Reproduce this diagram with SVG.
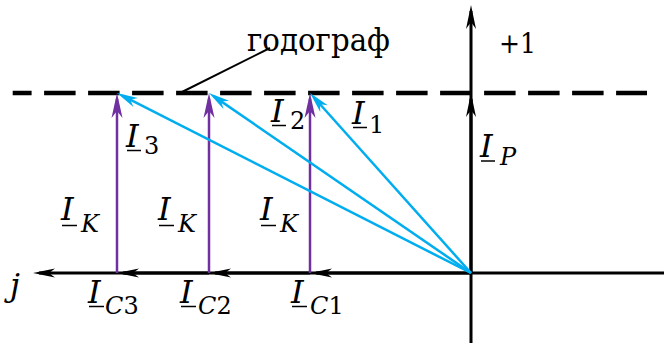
<svg xmlns="http://www.w3.org/2000/svg" width="664" height="345" viewBox="0 0 664 345">
<style>
.ax{stroke:#000;stroke-width:3;fill:none}
.bl{stroke:#00AEEF;stroke-width:2.5;fill:none}
.pu{stroke:#7030A0;stroke-width:2.5;fill:none}
.ul{stroke:#000;stroke-width:1.5}
text{font-family:'DejaVu Serif','Liberation Serif',serif}
.i{font-style:italic}
.m{font-size:32px;font-style:italic}
.s{font-size:24px}
</style>
<defs>
<marker id="ak" viewBox="-30 -7 31 14" refX="-6" refY="0" markerWidth="31" markerHeight="14" markerUnits="userSpaceOnUse" orient="auto">
<path d="M0,0 L-24,-5 L-17,0 L-24,5 Z" fill="#000"/>
</marker>
<marker id="ah" viewBox="-30 -7 31 14" refX="-6" refY="0" markerWidth="31" markerHeight="14" markerUnits="userSpaceOnUse" orient="auto">
<path d="M0,0 L-22,-4.5 L-16,0 L-22,4.5 Z" fill="#000"/>
</marker>
<marker id="ap" viewBox="-30 -7 31 14" refX="-6" refY="0" markerWidth="31" markerHeight="14" markerUnits="userSpaceOnUse" orient="auto">
<path d="M0,0 L-25,-5.5 L-18,0 L-25,5.5 Z" fill="#7030A0"/>
</marker>
<marker id="ab" viewBox="-30 -7 31 14" refX="-6" refY="0" markerWidth="31" markerHeight="14" markerUnits="userSpaceOnUse" orient="auto">
<path d="M0,0 L-21,-5 L-15,0 L-21,5 Z" fill="#00AEEF"/>
</marker>
</defs>
<g id="hodograph">
<line x1="12.7" y1="93" x2="647" y2="93" stroke="#000" stroke-width="4.5" stroke-dasharray="31.5 12.5" stroke-dashoffset="12.6"/>
<line x1="182" y1="92" x2="270" y2="48" stroke="#000" stroke-width="2"/>
<text x="247" y="51" font-size="32" textLength="143" lengthAdjust="spacingAndGlyphs">годограф</text>
</g>
<g id="connectors">
<path class="ax" d="M471,343 V11" marker-end="url(#ak)"/>
<path class="ax" d="M471,273 V99" marker-end="url(#ak)"/>
<path class="ax" d="M664,273 H39" marker-end="url(#ah)"/>
<path class="ax" d="M471,273 H316" marker-end="url(#ah)"/>
<path class="ax" d="M310,273 H215" marker-end="url(#ah)"/>
<path class="ax" d="M209,273 H123" marker-end="url(#ah)"/>
<path class="pu" d="M117,273 V99" marker-end="url(#ap)"/>
<path class="pu" d="M209,273 V99" marker-end="url(#ap)"/>
<path class="pu" d="M310,273 V99" marker-end="url(#ap)"/>
<path class="bl" d="M471,273 L314,97.5" marker-end="url(#ab)"/>
<path class="bl" d="M471,273 L213.9,96.4" marker-end="url(#ab)"/>
<path class="bl" d="M471,273 L122.3,95.7" marker-end="url(#ab)"/>
</g>
<g id="axis-labels">
<text x="499" y="53" font-size="27" textLength="37" lengthAdjust="spacingAndGlyphs">+1</text>
<text class="m" x="10" y="296">j</text>
</g>
<g id="label-I3">
<text class="m" x="126" y="147">I</text><text class="s" x="144" y="154">3</text>
<line class="ul" x1="127" y1="150.5" x2="141" y2="150.5"/>
</g>
<g id="label-I2">
<text class="m" x="271" y="122">I</text><text class="s" x="290" y="129">2</text>
<line class="ul" x1="272" y1="125.5" x2="286" y2="125.5"/>
</g>
<g id="label-I1">
<text class="m" x="352" y="124">I</text><text class="s" x="369" y="133">1</text>
<line class="ul" x1="353" y1="127.5" x2="367" y2="127.5"/>
</g>
<g id="label-IP">
<text class="m" x="480" y="157">I</text><text class="s i" x="500" y="165">P</text>
<line class="ul" x1="481" y1="161" x2="495" y2="161"/>
</g>
<g id="label-IK1">
<text class="m" x="61" y="220">I</text><text class="s i" x="81" y="232">K</text>
<line class="ul" x1="62" y1="225.5" x2="77" y2="225.5"/>
</g>
<g id="label-IK2">
<text class="m" x="158" y="220">I</text><text class="s i" x="178" y="232">K</text>
<line class="ul" x1="159" y1="225.5" x2="174" y2="225.5"/>
</g>
<g id="label-IK3">
<text class="m" x="260" y="220">I</text><text class="s i" x="280" y="232">K</text>
<line class="ul" x1="261" y1="225.5" x2="276" y2="225.5"/>
</g>
<g id="label-IC3">
<text class="m" x="88" y="303">I</text><text class="s" x="105" y="314"><tspan class="i">C</tspan>3</text>
<line class="ul" x1="89" y1="306.5" x2="104" y2="306.5"/>
</g>
<g id="label-IC2">
<text class="m" x="180" y="303">I</text><text class="s" x="198" y="314"><tspan class="i">C</tspan>2</text>
<line class="ul" x1="181" y1="306.5" x2="196" y2="306.5"/>
</g>
<g id="label-IC1">
<text class="m" x="291" y="303">I</text><text class="s" x="310" y="314"><tspan class="i">C</tspan>1</text>
<line class="ul" x1="292" y1="306.5" x2="307" y2="306.5"/>
</g>
</svg>
